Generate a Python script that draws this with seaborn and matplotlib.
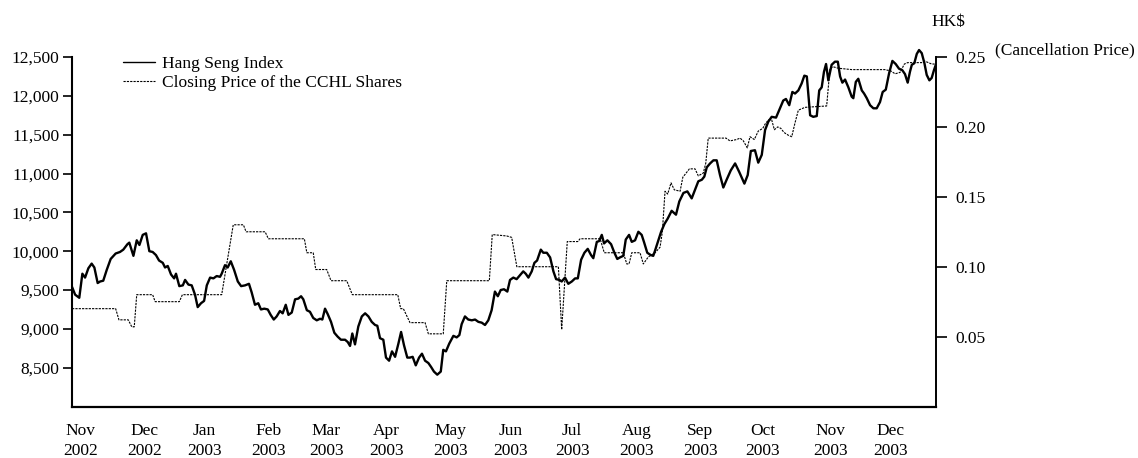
import matplotlib
matplotlib.use('Agg')
import matplotlib.pyplot as plt
from matplotlib.lines import Line2D
from matplotlib.ticker import FuncFormatter
import pandas as pd
import seaborn as sns

sns.set_style('ticks', {'axes.edgecolor': 'black', 'xtick.color': 'black', 'ytick.color': 'black',
                        'text.color': 'black', 'axes.labelcolor': 'black'})
plt.rcParams['font.family'] = ['Liberation Serif', 'DejaVu Serif']
plt.rcParams['font.size'] = 12.5

# days counted from 1 Nov 2002
start = pd.Timestamp('2002-11-01')
last_day = 418.0

hsi_day = [0.0, 1.5, 3.5, 5.0, 6.3, 7.9, 9.5, 10.8, 12.4, 13.6, 15.1, 16.8, 18.7, 21.1, 23.2, 24.8,
           26.8, 27.7, 29.7, 31.3, 32.6, 34.2, 35.8, 37.4, 39.0, 40.6, 42.1, 43.9, 45.0, 46.3, 47.9,
           49.4, 50.3, 51.9, 53.6, 54.7, 56.3, 57.9, 59.5, 60.8, 62.4, 63.9, 65.2, 66.8, 68.4, 70.0,
           71.6, 72.4, 74.0, 75.3, 76.8, 78.4, 80.2, 81.8, 83.7, 85.6, 86.9, 88.5, 90.1, 91.4, 93.0,
           94.7, 96.1, 97.6, 99.0, 100.6, 101.9, 103.4, 104.7, 106.3, 107.9, 109.5, 110.8, 111.9,
           113.6, 115.1, 116.7, 118.4, 120.0, 121.1, 122.4, 123.7, 125.3, 126.9, 128.5, 130.1, 132.1,
           133.4, 134.5, 135.6, 136.9, 138.5, 140.2, 141.8, 143.4, 145.0, 146.6, 147.7, 149.0, 150.6,
           151.9, 153.4, 154.8, 156.3, 157.9, 159.2, 160.6, 162.2, 163.5, 164.8, 166.3, 167.9, 169.3,
           170.8, 172.4, 173.7, 175.1, 176.7, 178.4, 179.6, 180.9, 182.5, 184.5, 186.1, 187.4, 188.5,
           190.1, 191.7, 193.4, 195.0, 196.6, 198.2, 199.8, 201.4, 203.0, 204.6, 206.0, 207.4, 209.0,
           210.6, 211.9, 213.5, 215.1, 216.7, 218.3, 219.5, 220.8, 222.4, 223.7, 225.0, 226.8, 228.0,
           229.7, 231.3, 232.9, 234.2, 235.8, 236.9, 238.5, 240.1, 241.8, 243.4, 244.7, 246.3, 247.9,
           249.5, 251.1, 252.2, 253.9, 255.0, 256.3, 257.4, 259.0, 260.8, 262.4, 263.8, 265.1, 266.7,
           267.9, 269.5, 270.8, 272.4, 274.0, 275.6, 276.7, 278.3, 280.0, 281.2, 282.1, 283.7, 285.0,
           286.6, 288.2, 290.1, 292.2, 293.8, 295.8, 297.7, 299.8, 301.4, 303.0, 304.7, 305.9, 307.1,
           308.7, 310.3, 311.9, 313.5, 315.1, 316.7, 318.7, 320.8, 322.8, 325.3, 326.9, 328.4, 330.4,
           332.0, 333.7, 335.3, 336.9, 338.5, 340.6, 342.5, 344.1, 345.4, 347.0, 348.5, 349.8, 351.4,
           353.0, 354.3, 355.5, 357.1, 358.6, 360.3, 361.5, 362.7, 363.8, 364.8, 365.9, 367.5, 369.1,
           370.5, 371.6, 372.7, 374.0, 375.6, 377.2, 378.0, 379.2, 380.4, 382.1, 383.2, 384.5, 386.1,
           387.7, 389.3, 390.9, 392.2, 393.7, 395.3, 396.9, 398.5, 400.1, 401.7, 403.0, 404.3, 405.4,
           406.3, 407.5, 408.7, 409.8, 411.1, 412.4, 413.5, 414.8, 415.9, 417.0, 417.9]
hsi_value = [9540, 9440, 9400, 9710, 9660, 9780, 9840, 9790, 9590, 9610, 9620, 9760, 9900, 9970, 9990, 10020,
             10090, 10110, 9940, 10140, 10080, 10210, 10230, 10000, 9990, 9950, 9880, 9850, 9790, 9810, 9700,
             9650, 9710, 9550, 9560, 9630, 9570, 9560, 9440, 9280, 9330, 9360, 9560, 9660, 9650, 9680,
             9670, 9710, 9820, 9790, 9870, 9760, 9610, 9550, 9560, 9580, 9470, 9310, 9330, 9250, 9260,
             9250, 9180, 9120, 9160, 9230, 9200, 9310, 9180, 9210, 9380, 9390, 9420, 9380,
             9240, 9220, 9140, 9110, 9130, 9120, 9260, 9190, 9090, 8950, 8900, 8860, 8860,
             8830, 8780, 8940, 8800, 9030, 9160, 9200, 9160, 9090, 9050, 9040, 8880, 8860,
             8630, 8590, 8710, 8640, 8810, 8960, 8790, 8630, 8630, 8640, 8530, 8630, 8680,
             8590, 8560, 8510, 8450, 8410, 8450, 8730, 8710, 8810, 8910, 8890, 8920, 9060,
             9160, 9120, 9110, 9120, 9090, 9080, 9050, 9110, 9240, 9480, 9420, 9500, 9510,
             9480, 9630, 9660, 9640, 9690, 9740, 9710, 9660, 9740, 9850, 9880, 10020, 9980,
             9980, 9920, 9740, 9640, 9630, 9610, 9660, 9580, 9610, 9650, 9650, 9890, 9980,
             10030, 9950, 9910, 10120, 10130, 10210, 10100, 10140, 10090, 9980, 9900, 9920, 9940,
             10150, 10210, 10120, 10140, 10250, 10210, 10120, 9980, 9950, 9940, 10010, 10140, 10250,
             10350, 10420, 10520, 10470, 10640, 10750, 10770, 10680, 10790, 10900, 10920, 10960, 11080,
             11130, 11170, 11170, 10980, 10820, 10920, 11040, 11130, 11020, 10870, 10980, 11290, 11300,
             11140, 11240, 11560, 11670, 11730, 11720, 11840, 11940, 11960, 11880, 12050, 12030, 12070,
             12160, 12260, 12250, 11750, 11730, 11740, 12070, 12110, 12310, 12410, 12200, 12400, 12440,
             12440, 12250, 12170, 12210, 12110, 11990, 11970, 12180, 12220, 12070, 12030, 11970, 11880,
             11840, 11840, 11920, 12050, 12080, 12290, 12450, 12410, 12350, 12330, 12280, 12170, 12310,
             12400, 12420, 12540, 12590, 12550, 12420, 12270, 12200, 12230, 12330, 12400]

cchl_day = [0.0, 21.1, 22.7, 27.2, 28.9, 30.1, 31.3, 39.0, 40.2, 51.9, 53.4, 72.4, 78.0, 82.9, 84.2,
            93.4, 95.0, 112.4, 113.6, 116.7, 117.9, 123.2, 125.3, 132.9, 135.6, 157.6, 159.0, 160.3,
            163.5, 170.8, 172.4, 179.6, 181.3, 201.9, 203.3, 210.3, 212.7, 215.2, 235.3, 236.9, 239.6,
            244.7, 245.8, 255.5, 257.5, 266.7, 268.4, 269.5, 270.8, 274.8, 276.4, 278.8, 282.1, 284.5,
            285.6, 286.9, 288.2, 289.8, 291.4, 294.2, 295.5, 298.7, 301.4, 303.0, 305.4, 306.6, 307.8,
            309.5, 316.4, 318.3, 321.6, 323.2, 324.8, 326.7, 328.0, 330.1, 332.0, 334.2, 335.3, 336.9,
            338.5, 339.8, 341.4, 342.9, 344.5, 346.6, 348.2, 349.8, 351.4, 354.6, 365.1, 366.7, 368.3,
            370.7, 377.2, 383.7, 393.3, 396.2, 398.2, 400.6, 402.7, 404.3, 411.1, 412.7, 415.9, 417.5]
cchl_price = [0.070, 0.070, 0.062, 0.062, 0.057, 0.057, 0.080, 0.080, 0.075, 0.075, 0.080, 0.080, 0.130,
              0.130, 0.125, 0.125, 0.120, 0.120, 0.110, 0.110, 0.098, 0.098, 0.090, 0.090, 0.080, 0.080,
              0.070, 0.070, 0.060, 0.060, 0.052, 0.052, 0.090, 0.090, 0.123, 0.122, 0.121, 0.100, 0.100,
              0.055, 0.118, 0.118, 0.120, 0.120, 0.110, 0.110, 0.102, 0.102, 0.110, 0.110, 0.102, 0.107,
              0.110, 0.114, 0.125, 0.154, 0.152, 0.160, 0.155, 0.154, 0.164, 0.170, 0.170, 0.165, 0.167,
              0.174, 0.192, 0.192, 0.192, 0.190, 0.191, 0.192, 0.190, 0.185, 0.193, 0.191, 0.197, 0.199,
              0.202, 0.205, 0.205, 0.198, 0.200, 0.199, 0.196, 0.194, 0.193, 0.203, 0.212, 0.214, 0.215,
              0.242, 0.243, 0.242, 0.241, 0.241, 0.241, 0.240, 0.238, 0.239, 0.245, 0.246, 0.246, 0.247,
              0.245, 0.245]

month_ticks = ['2002-11-05', '2002-12-06', '2003-01-04', '2003-02-04', '2003-03-04', '2003-04-02',
               '2003-05-03', '2003-06-01', '2003-07-01', '2003-08-01', '2003-09-01', '2003-10-01',
               '2003-11-03', '2003-12-02']
month_labels = ['Nov\n2002', 'Dec\n2002', 'Jan\n2003', 'Feb\n2003', 'Mar\n2003', 'Apr\n2003',
                'May\n2003', 'Jun\n2003', 'Jul\n2003', 'Aug\n2003', 'Sep\n2003', 'Oct\n2003',
                'Nov\n2003', 'Dec\n2003']
hsi_ticks = [8500, 9000, 9500, 10000, 10500, 11000, 11500, 12000, 12500]
price_ticks = [0.05, 0.10, 0.15, 0.20, 0.25]

hsi = pd.DataFrame({'date': start + pd.to_timedelta(hsi_day, unit='D'), 'value': hsi_value})
cchl = pd.DataFrame({'date': start + pd.to_timedelta(cchl_day, unit='D'), 'price': cchl_price})

fig = plt.figure(figsize=(11.38, 4.58), dpi=100)
ax = fig.add_axes([0.0633, 0.1124, 0.7592, 0.797])
ax2 = ax.twinx()

dotted = (0, (2, 1))
sns.lineplot(data=hsi, x='date', y='value', ax=ax, color='black', lw=1.7,
             estimator=None, sort=False, legend=False)
sns.lineplot(data=cchl, x='date', y='price', ax=ax2, color='black', lw=0.8, linestyle=dotted,
             estimator=None, sort=False, legend=False)

ax.set_xlim(start, start + pd.Timedelta(days=last_day))
ax.set_ylim(8000, 12700)
ax2.set_ylim(0, 0.25 * 4700 / 4500)

ax.set_xticks(pd.to_datetime(month_ticks))
ax.set_xticklabels(month_labels)
for t in ax.get_xticklabels():
    t.set_linespacing(1.3)
ax.tick_params(axis='x', length=0, pad=12)
ax.set_yticks(hsi_ticks)
ax.yaxis.set_major_formatter(FuncFormatter(lambda v, p: f'{v:,.0f}'))
ax.tick_params(axis='y', length=6.5, width=1.2, pad=2.5)
ax2.set_yticks(price_ticks)
ax2.yaxis.set_major_formatter(FuncFormatter(lambda v, p: f'{v:.2f}'))
ax2.tick_params(axis='y', length=8, width=1.2, pad=6)
ax.set_xlabel('')
ax.set_ylabel('')
ax2.set_ylabel('')

for s in ['top', 'right']:
    ax.spines[s].set_visible(False)
for s in ['top', 'left', 'bottom']:
    ax2.spines[s].set_visible(False)
ax.spines['left'].set_bounds(8000, 12500)
ax2.spines['right'].set_bounds(0, 0.25)
ax.spines['left'].set_linewidth(1.5)
ax.spines['bottom'].set_linewidth(1.6)
ax2.spines['right'].set_linewidth(1.4)

handles = [Line2D([], [], color='black', lw=1.0),
           Line2D([], [], color='black', lw=0.8, linestyle=dotted)]
ax.legend(handles, ['Hang Seng Index', 'Closing Price of the CCHL Shares'], loc='upper left',
          bbox_to_anchor=(0.059, 0.96), frameon=False, handlelength=1.85, handletextpad=0.4,
          labelspacing=0.15, borderpad=0, borderaxespad=0)

fig.text(0.833, 0.952, 'HK$', ha='center', va='center')
fig.text(0.874, 0.889, '(Cancellation Price)', ha='left', va='center')

fig.savefig('out.png', dpi=100)
